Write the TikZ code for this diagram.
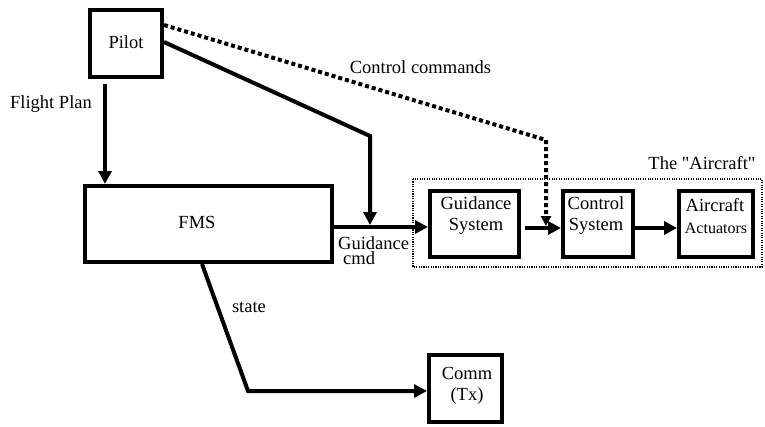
\documentclass[tikz,border=0pt]{standalone}
\usepackage{fontspec}
\setmainfont{Liberation Serif}[Ligatures=TeXOff]
\usetikzlibrary{arrows.meta,calc}

\tikzset{
  blk/.style={draw, line width=4pt, inner sep=0pt, anchor=center},
  lbl/.style={font=\fontsize{18.5}{21}\selectfont, inner sep=0pt, align=center},
  small/.style={font=\fontsize{16}{19}\selectfont, inner sep=0pt},
  flow/.style={line width=4pt, -{Triangle[length=13pt,width=13pt]}},
  cmdline/.style={line width=4pt, dash pattern=on 4pt off 3pt,
    -{Triangle[length=10pt,width=10pt]}},
  frame/.style={draw, line width=2.5pt, dash pattern=on 1.1pt off 1.3pt}
}

\begin{document}
\begin{tikzpicture}[x=1pt,y=-1pt]
\useasboundingbox (0,0) rectangle (765,426);

% aircraft group frame
\draw[frame] (413,179) rectangle (762,267);
\node[lbl] (aircraftT) at (702,163) {The "Aircraft"};

% boxes
\node[blk, minimum width=72pt, minimum height=67pt] (pilot) at (126,43.5) {};
\node[lbl] (pilotT) at (126,42) {Pilot};

\node[blk, minimum width=247pt, minimum height=76pt] (fms) at (208.5,224) {};
\node[lbl] (fmsT) at (197,222) {FMS};

\node[blk, minimum width=89pt, minimum height=66pt] (guid) at (474.5,224) {};
\node[lbl] (guidT) at (476,215.5) {Guidance\\System};

\node[blk, minimum width=70pt, minimum height=66pt] (ctrl) at (598,224) {};
\node[lbl] (ctrlT) at (596,215.5) {Control\\System};

\node[blk, minimum width=74pt, minimum height=66pt] (act) at (716,224) {};
\node[lbl] (actT1) at (715,205) {Aircraft};
\node[small] (actT2) at (716,228) {Actuators};

\node[blk, minimum width=73pt, minimum height=67pt] (comm) at (465.5,388.5) {};
\node[lbl] (commT) at (467,385.5) {Comm\\(Tx)};

% connector waypoints
\coordinate (plA) at ($(pilot.south)+(-21,5)$);
\coordinate (plB) at (plA |- fms.north);
\coordinate (gcA) at ($(fms.east)+(0,3)$);
\coordinate (gcB) at ($(guid.west)+(0,3)$);
\coordinate (pgA) at ($(pilot.east)+(0,-1.5)$);
\coordinate (pgB) at (370,136);
\coordinate (pgC) at (370,225);
\coordinate (ccA) at (164,25);
\coordinate (ccB) at (546,140);
\coordinate (ccC) at (546,226);
\coordinate (gsA) at ($(guid.east)+(4,4)$);
\coordinate (gsB) at ($(ctrl.west)+(0,4)$);
\coordinate (csA) at ($(ctrl.east)+(0,4)$);
\coordinate (csB) at ($(act.west)+(0,4)$);
\coordinate (stA) at (202,264);
\coordinate (stB) at (248,391);
\coordinate (stC) at (comm.west |- stB);

% connectors
\draw[flow] (plA) -- (plB);
\draw[flow] (gcA) -- (gcB);
\draw[flow] (pgA) -- (pgB) -- (pgC);
\draw[cmdline] (ccA) -- (ccB) -- (ccC);
\draw[flow] (gsA) -- (gsB);
\draw[flow] (csA) -- (csB);
\draw[flow] (stA) -- (stB) -- (stC);

% connector labels
\node[lbl] (fpT) at (51,104) {Flight Plan};
\node[lbl] (ccT) at (420.5,67) {Control commands};
\node[font=\fontsize{18.5}{15}\selectfont, inner sep=0pt, align=left, anchor=west]
  (gdT) at (338,250.5) {Guidance\\\hspace{5pt}cmd};
\node[lbl] (stT) at (249,307) {state};
\end{tikzpicture}
\end{document}
